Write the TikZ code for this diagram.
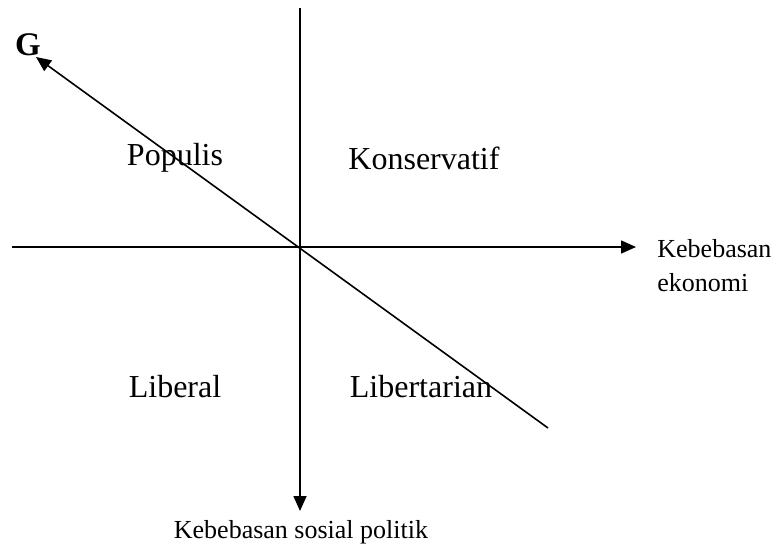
\documentclass[tikz,border=0pt]{standalone}
\usepackage{fontspec}
\setmainfont{Liberation Serif}
\usetikzlibrary{arrows.meta}
\begin{document}
\begin{tikzpicture}[x=0.5pt,y=-0.5pt,
  axis/.style={line width=0.8pt,-{Triangle[length=7.5pt,width=6.5pt]}},
  quad/.style={font=\rmfamily\fontsize{16}{19}\selectfont},
  small/.style={font=\rmfamily\fontsize{13}{15}\selectfont}]
\useasboundingbox (0,0) rectangle (776,552);
\coordinate (O) at (300,247);
\coordinate (top) at (300,8);
\coordinate (bot) at (300,511);
\coordinate (left) at (12,247);
\coordinate (right) at (636,247);
\coordinate (dstart) at (548,428);
\coordinate (dend) at (36,57);
\draw[line width=0.8pt] (top) -- (O);
\draw[axis] (O) -- (bot);
\draw[line width=0.8pt] (left) -- (O);
\draw[axis] (O) -- (right);
\draw[axis] (dstart) -- (dend);
\node[font=\rmfamily\fontsize{16.5}{19}\selectfont\bfseries] (G) at (28,45) {G};
\node[quad] (pop) at (175,158) {Populis};
\node[quad] (kon) at (424,158) {Konservatif};
\node[quad] (lib) at (175,387) {Liberal};
\node[quad] (libt) at (421,387) {Libertarian};
\node[small,anchor=base west,inner sep=0pt] (keb1) at (657,257) {Kebebasan};
\node[small,anchor=base west,inner sep=0pt] (keb2) at (657,291) {ekonomi};
\node[small] (ksp) at (301,532) {Kebebasan sosial politik};
\end{tikzpicture}
\end{document}
